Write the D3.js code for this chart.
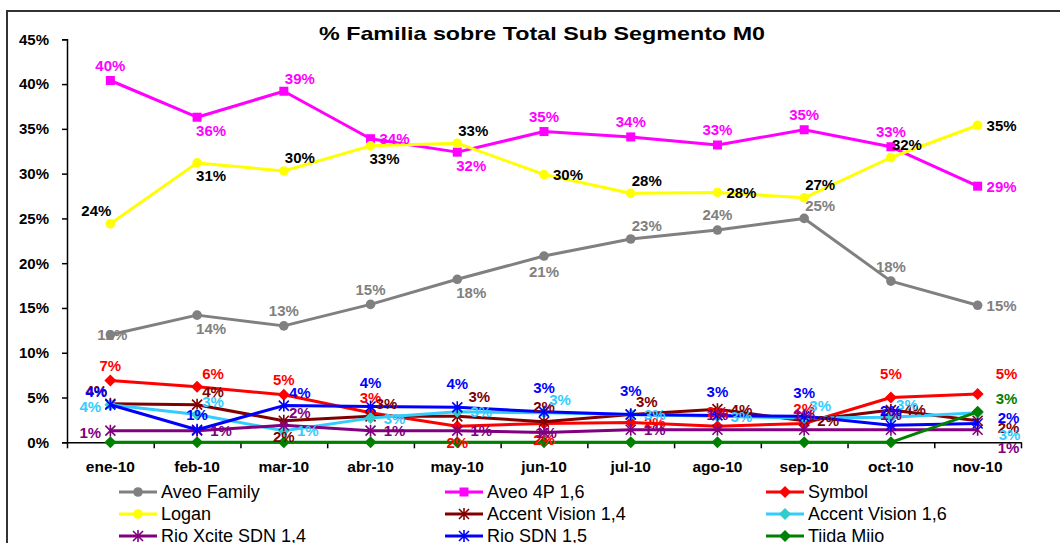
<!DOCTYPE html>
<html>
<head>
<meta charset="utf-8">
<script src="https://cdn.jsdelivr.net/npm/d3@7"></script>
<style>
  body { margin: 0; background: #fff; }
  text { font-family: Arial, 'Liberation Sans', sans-serif; }
</style>
</head>
<body>
<div id="main"></div>
<script>
// Categories and series values (percent)
var months = ['ene-10', 'feb-10', 'mar-10', 'abr-10', 'may-10', 'jun-10', 'jul-10', 'ago-10', 'sep-10', 'oct-10', 'nov-10'];
var yTicks = [0, 5, 10, 15, 20, 25, 30, 35, 40, 45];

var aveoFamily  = [12.0, 14.2, 13.0, 15.4, 18.2, 20.8, 22.7, 23.7, 25.0, 18.0, 15.3];
var aveo4P      = [40.4, 36.3, 39.2, 33.9, 32.4, 34.7, 34.1, 33.2, 34.9, 33.0, 28.6];
var symbol      = [6.9, 6.2, 5.3, 3.3, 1.8, 2.1, 2.2, 1.8, 2.1, 5.0, 5.4];
var logan       = [24.4, 31.2, 30.3, 33.1, 33.4, 29.9, 27.8, 27.9, 27.3, 31.8, 35.4];
var accent14    = [4.3, 4.2, 2.4, 2.9, 2.9, 2.3, 3.1, 3.7, 2.4, 3.6, 2.4];
var accent16    = [4.2, 3.1, 1.3, 2.7, 3.4, 3.3, 3.1, 2.9, 2.7, 2.8, 3.3];
var rioXcite    = [1.3, 1.3, 1.9, 1.3, 1.3, 1.1, 1.4, 1.4, 1.4, 1.4, 1.4];
var rioSDN      = [4.2, 1.4, 4.1, 4.0, 3.9, 3.4, 3.1, 3.0, 2.9, 1.9, 2.1];
var tiida       = [0, 0, 0, 0, 0, 0, 0, 0, 0, 0, 3.4];

// Series table (legend order)
var series = [
  {name: 'Aveo Family',       values: aveoFamily, color: '#808080', labelColor: '#808080', marker: 'circle'},
  {name: 'Aveo 4P 1,6',       values: aveo4P,     color: '#FF00FF', labelColor: '#FF00FF', marker: 'square'},
  {name: 'Symbol',            values: symbol,     color: '#FF0000', labelColor: '#FF0000', marker: 'diamond'},
  {name: 'Logan',             values: logan,      color: '#FFFF00', labelColor: '#000000', marker: 'circle'},
  {name: 'Accent Vision 1,4', values: accent14,   color: '#800000', labelColor: '#800000', marker: 'star'},
  {name: 'Accent Vision 1,6', values: accent16,   color: '#33CCFF', labelColor: '#33CCFF', marker: 'diamond', markerColor: '#33CCCC'},
  {name: 'Rio Xcite SDN 1,4', values: rioXcite,   color: '#800080', labelColor: '#800080', marker: 'star'},
  {name: 'Rio SDN 1,5',       values: rioSDN,     color: '#0000FF', labelColor: '#0000FF', marker: 'star'},
  {name: 'Tiida Miio',        values: tiida,      color: '#008000', labelColor: '#008000', marker: 'diamond'}
];

// Where each data label sits relative to its point
var labelPlacement = {
  'Aveo Family':       ['c', 'br', 'a', 'a', 'br', 'b', 'ar', 'a', 'ar', 'a', 'r'],
  'Aveo 4P 1,6':       ['a', 'br', 'ar', 'r', 'br', 'a', 'a', 'a', 'a', 'a', 'r'],
  'Symbol':            ['a', 'ar', 'a', 'a', 'b', 'b', 'r', 'a', 'a', 'A', 'nr1'],
  'Logan':             ['al', 'br', 'ar', 'br', 'ar', 'r', 'ar', 'r', 'ar', 'ar', 'r'],
  'Accent Vision 1,4': ['al', 'ar', 'b', 'ar', 'Ar', 'a', 'ar', 'r', 'r', 'r', 'nr4'],
  'Accent Vision 1,6': ['l', 'ar', 'r', 'r', 'r', 'ar', 'r', 'r', 'ar', 'ar', 'nr5'],
  'Rio Xcite SDN 1,4': ['l', 'r', 'ar', 'r', 'r', 'c', 'r', 'a', 'a', 'a', 'nr6'],
  'Rio SDN 1,5':       ['al', 'a', 'ar', 'A', 'A', 'A', 'A', 'A', 'A', 'a', 'nr3'],
  'Tiida Miio':        ['', '', '', '', '', '', '', '', '', '', 'nr2']
};
var placeOffsets = {
  c: [2, 0], a: [0, -15], A: [0, -24], b: [0, 16], r: [24, 0], l: [-20, 2],
  ar: [16, -13], Ar: [22, -20], br: [14, 13], al: [-14, -13],
  // stacked labels at the right end of the chart
  nr1: [29, -20], nr2: [29, -13], nr3: [31, -6], nr4: [31, 7], nr5: [32, 22], nr6: [31, 18]
};

var svgWidth = 1060;
var svgHeight = 543;
var plot = {l: 67, r: 1021, t: 39.3, b: 442.3};

var svg = d3.select('#main')
  .append('svg')
  .attr('width', svgWidth)
  .attr('height', svgHeight);

svg.append('rect')
  .attr('width', svgWidth).attr('height', svgHeight)
  .attr('fill', '#fff');

// chart area border (runs off right and bottom)
svg.append('rect')
  .attr('x', 7).attr('y', 11)
  .attr('width', 1070).attr('height', 560)
  .attr('fill', 'none')
  .attr('stroke', '#333')
  .attr('stroke-width', 2);

// title
svg.append('text')
  .attr('x', 319).attr('y', 40)
  .attr('textLength', 446)
  .attr('lengthAdjust', 'spacingAndGlyphs')
  .style('font-size', '19px')
  .style('font-weight', 'bold')
  .text('%  Familia sobre Total Sub Segmento M0');

var xScale = d3.scaleBand().domain(months).range([plot.l, plot.r]);
var xIdx = d3.scaleLinear().domain([0, months.length]).range([plot.l, plot.r]);
var yScale = d3.scaleLinear().domain([0, 45]).range([plot.b, plot.t]);

function cx(i) { return xScale(months[i]) + xScale.bandwidth() / 2; }

// y-axis
var yAxis = d3.axisLeft(yScale)
  .tickValues(yTicks)
  .tickSize(5)
  .tickPadding(13)
  .tickFormat(function(d) { return d + '%'; });

var yG = svg.append('g')
  .attr('transform', `translate(${plot.l}, 0)`)
  .call(yAxis);
yG.select('.domain').attr('stroke', '#000').attr('stroke-width', 1.5);
yG.selectAll('.tick line').attr('stroke', '#000').attr('stroke-width', 1.5);
yG.selectAll('text')
  .style('font-size', '15px')
  .style('font-weight', 'bold')
  .attr('fill', '#000');

// x-axis: tick marks on category boundaries, labels at centers
var xTickG = svg.append('g')
  .attr('transform', `translate(0, ${plot.b})`)
  .call(d3.axisBottom(xIdx).tickValues(d3.range(months.length + 1)).tickSize(6).tickSizeOuter(0).tickFormat(''));
xTickG.select('.domain').attr('stroke', '#000').attr('stroke-width', 1.5);
xTickG.selectAll('.tick line').attr('stroke', '#000').attr('stroke-width', 1.5);

var xLabG = svg.append('g')
  .attr('transform', `translate(0, ${plot.b})`)
  .call(d3.axisBottom(xScale).tickSize(0).tickPadding(19));
xLabG.select('.domain').remove();
xLabG.selectAll('text')
  .style('font-size', '15.5px')
  .style('font-weight', 'bold')
  .attr('fill', '#000');

// markers
function starPath(s) {
  var h = s / 2;
  return `M${-h},${-h}L${h},${h}M${-h},${h}L${h},${-h}M0,${-h * 1.2}L0,${h * 1.2}`;
}
function drawMarker(g, type, color) {
  if (type === 'circle') {
    g.append('circle').attr('r', 4.8).attr('fill', color);
  } else if (type === 'square') {
    g.append('rect').attr('x', -4.5).attr('y', -4.5).attr('width', 9).attr('height', 9).attr('fill', color);
  } else if (type === 'diamond') {
    g.append('path').attr('d', 'M0,-6L6,0L0,6L-6,0Z').attr('fill', color);
  } else if (type === 'star') {
    g.append('path').attr('d', starPath(10)).attr('stroke', color).attr('stroke-width', 1.6).attr('fill', 'none');
  }
}

var line = d3.line()
  .x(function(d, i) { return cx(i); })
  .y(function(d) { return yScale(d); });

series.forEach(function(s) {
  var g = svg.append('g').attr('class', 'series');
  g.append('path')
    .attr('d', line(s.values))
    .attr('fill', 'none')
    .attr('stroke', s.color)
    .attr('stroke-width', 3)
    .attr('stroke-linejoin', 'round');
  s.values.forEach(function(v, i) {
    var m = g.append('g').attr('transform', `translate(${cx(i)}, ${yScale(v)})`);
    drawMarker(m, s.marker, s.markerColor || s.color);
  });
});

// data labels on top
series.forEach(function(s) {
  var places = labelPlacement[s.name];
  s.values.forEach(function(v, i) {
    var p = places[i];
    if (!p || v === 0) return;
    var off = placeOffsets[p];
    svg.append('text')
      .attr('x', cx(i) + off[0])
      .attr('y', yScale(v) + off[1])
      .attr('dy', '0.36em')
      .attr('text-anchor', 'middle')
      .style('font-size', '15px')
      .style('font-weight', 'bold')
      .attr('fill', s.labelColor)
      .text(Math.round(v) + '%');
  });
});

// legend
var legendCols = [119, 445, 766];
var legendRows = [492, 514, 536];
series.forEach(function(s, i) {
  var x0 = legendCols[i % 3];
  var y0 = legendRows[Math.floor(i / 3)];
  var lg = svg.append('g').attr('transform', `translate(${x0}, ${y0})`);
  lg.append('line')
    .attr('x1', 0).attr('x2', 38)
    .attr('stroke', s.color).attr('stroke-width', 3);
  var m = lg.append('g').attr('transform', 'translate(19, 0)');
  drawMarker(m, s.marker, s.markerColor || s.color);
  lg.append('text')
    .attr('x', 42).attr('dy', '0.36em')
    .style('font-size', '18px')
    .attr('fill', '#000')
    .text(s.name);
});
</script>
</body>
</html>
